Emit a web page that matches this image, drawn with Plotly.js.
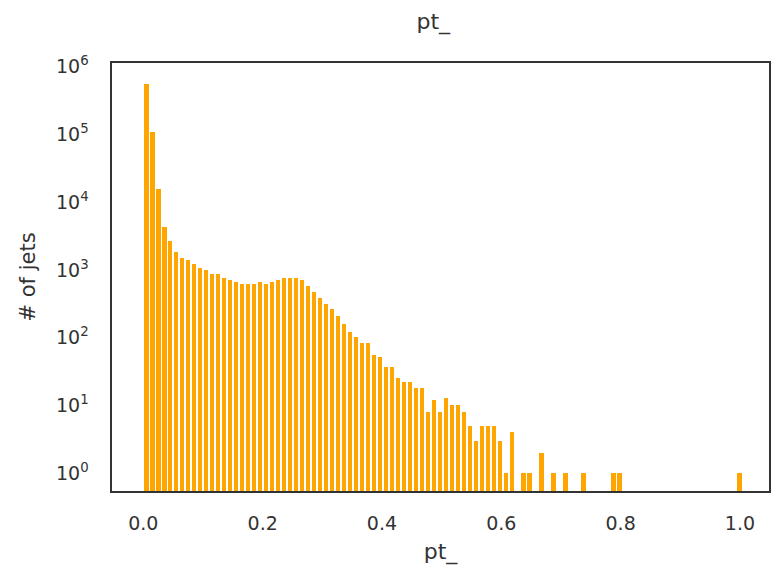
<!DOCTYPE html>
<html>
<head>
<meta charset="utf-8">
<script src="https://cdn.plot.ly/plotly-3.0.1.min.js"></script>
<style>html,body{margin:0;padding:0;background:#fff;}#chart{width:771px;height:570px;}</style>
</head>
<body>
<div id="chart"></div>
<script>
// Histogram counts of pt_, 100 equal bins from 0 to ~1.004
const binStart = 0.0;
const binWidth = 0.01004;
const counts = [
  550000, 110000, 15500, 4350, 2700, 1820, 1480, 1390, 1210, 1060,
  985, 860, 860, 752, 702, 656, 613, 613, 613, 656,
  613, 656, 702, 752, 752, 752, 702, 575, 470, 386,
  315, 262, 211, 160, 123, 101, 82, 82, 55, 52,
  37, 37, 25, 22, 22, 18, 18, 8, 12, 8,
  13, 10, 10, 8, 5, 3, 5, 5, 5, 3,
  1, 4, 0, 1, 1, 0, 2, 0, 1, 0,
  1, 0, 0, 1, 0, 0, 0, 0, 1, 1,
  0, 0, 0, 0, 0, 0, 0, 0, 0, 0,
  0, 0, 0, 0, 0, 0, 0, 0, 0, 1
];
const yTickVals = [1, 10, 100, 1000, 10000, 100000, 1000000];
const yTickText = ["10<sup>0</sup>", "10<sup>1</sup>", "10<sup>2</sup>", "10<sup>3</sup>", "10<sup>4</sup>", "10<sup>5</sup>", "10<sup>6</sup>"];
const xTickVals = [0.0, 0.2, 0.4, 0.6, 0.8, 1.0];
const xTickText = ["0.0", "0.2", "0.4", "0.6", "0.8", "1.0"];

const txt = '#333333';
const font = 'DejaVu Sans, sans-serif';

const trace = {
  type: 'bar',
  x0: binStart + binWidth / 2,
  dx: binWidth,
  y: counts.map(v => v > 0 ? v : null),
  width: binWidth * 0.74,
  marker: {color: '#FFA500', line: {width: 0}},
  hoverinfo: 'x+y'
};

const layout = {
  width: 771, height: 570,
  margin: {l: 112, r: 1.5, t: 63, b: 79, pad: 0},
  paper_bgcolor: '#fff', plot_bgcolor: '#fff',
  showlegend: false,
  bargap: 0,
  font: {family: font, color: txt, size: 19},
  title: {text: 'pt_', x: 0.562, xanchor: 'center', y: 0.962, yanchor: 'middle', font: {family: font, size: 22, color: txt}},
  xaxis: {
    range: [-0.0525, 1.0487],
    showgrid: false, zeroline: false,
    showline: true, mirror: true, linecolor: '#333', linewidth: 1.6,
    tickvals: xTickVals, ticktext: xTickText,
    ticks: '', ticklabelstandoff: 15,
    tickfont: {family: font, size: 19, color: txt},
    title: {text: 'pt_', standoff: 10, font: {family: font, size: 22, color: txt}}
  },
  yaxis: {
    type: 'log',
    range: [-0.266, 6.056],
    showgrid: false, zeroline: false,
    showline: true, mirror: true, linecolor: '#333', linewidth: 1.6,
    tickvals: yTickVals, ticktext: yTickText,
    ticks: '', ticklabelstandoff: 18,
    tickfont: {family: font, size: 19, color: txt},
    title: {text: '# of jets', standoff: 14, font: {family: font, size: 21, color: txt}}
  }
};

Plotly.newPlot('chart', [trace], layout, {displayModeBar: false, staticPlot: true});
</script>
</body>
</html>
